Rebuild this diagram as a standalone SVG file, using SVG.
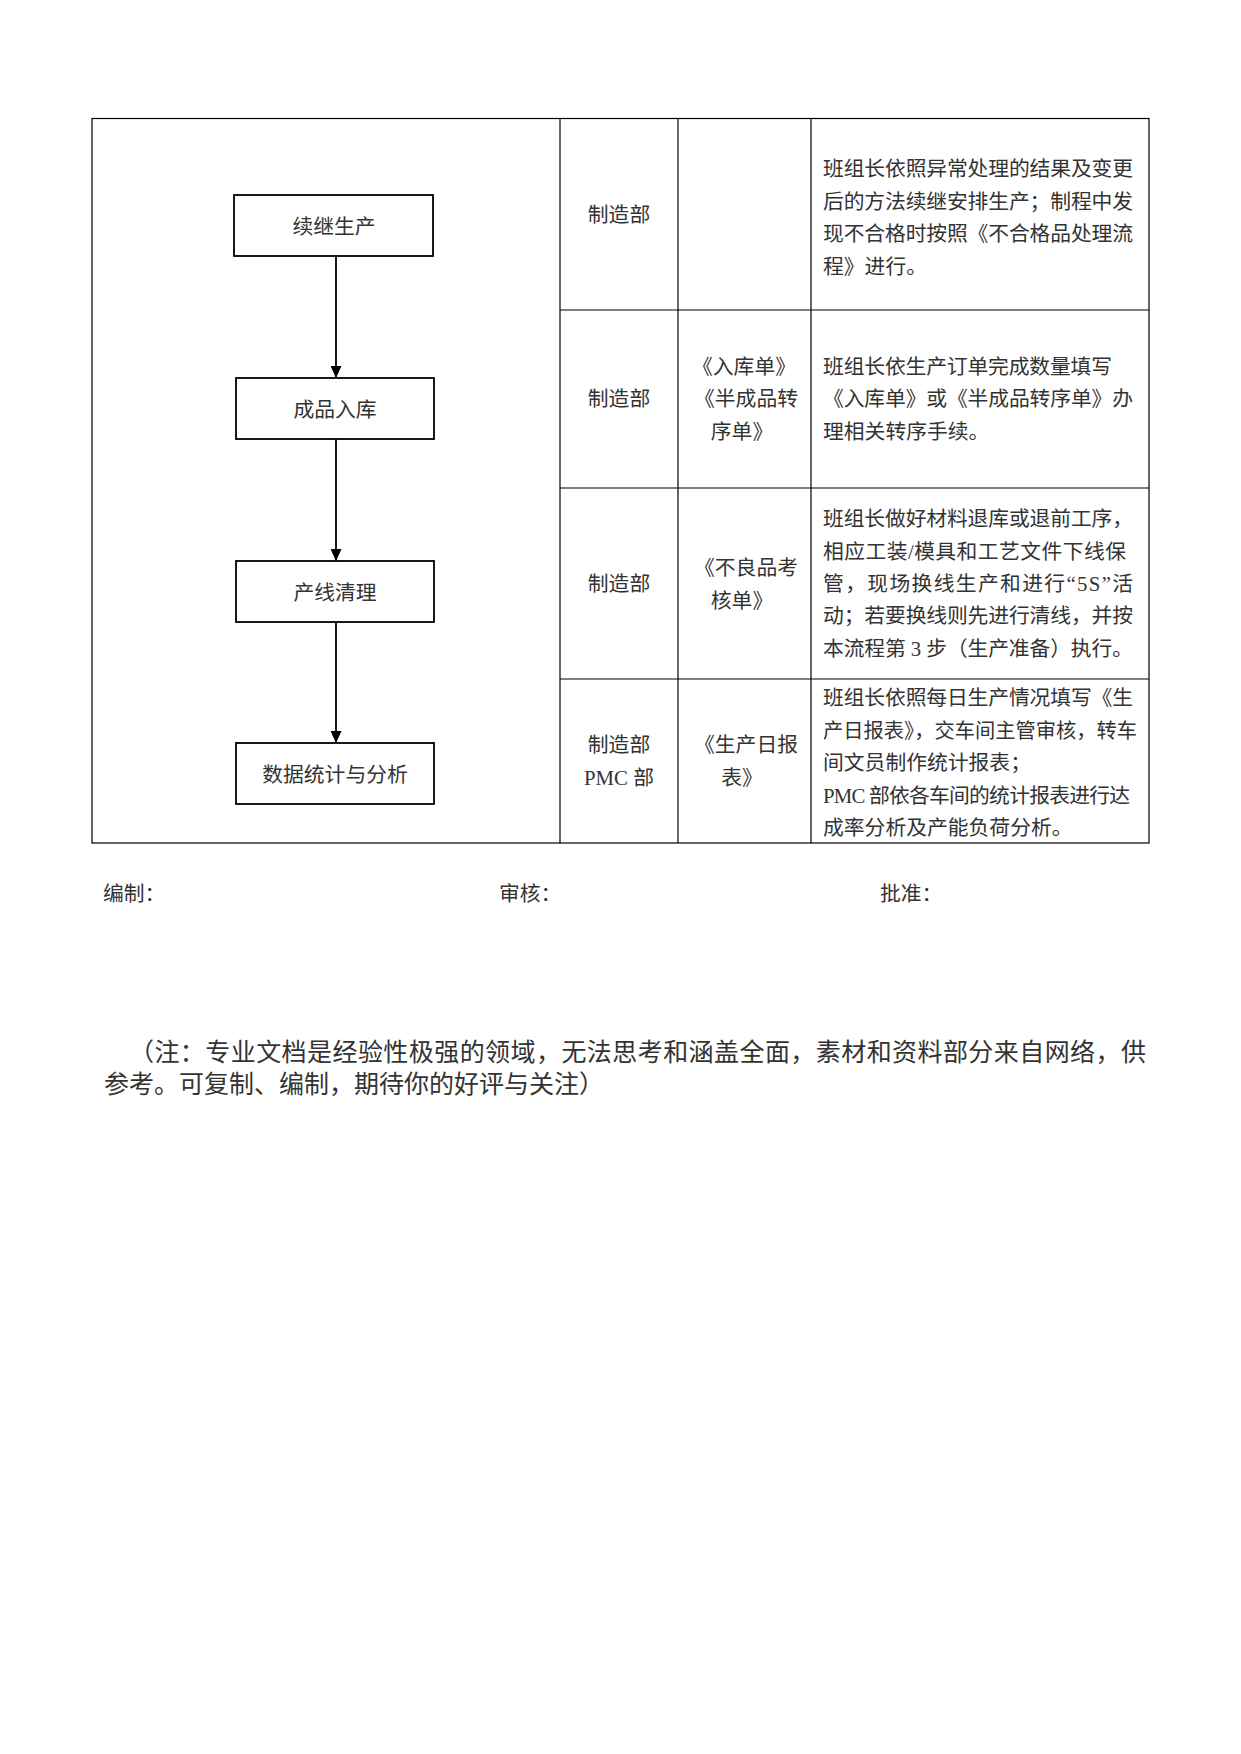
<svg xmlns="http://www.w3.org/2000/svg" width="1241" height="1754" viewBox="0 0 1241 1754">
<style>
.t{font-family:"Liberation Serif","Noto Sans CJK SC",serif;font-size:20.8px;fill:#333;dominant-baseline:central}
.c{text-anchor:middle}
.n{font-family:"Liberation Serif","Noto Sans CJK SC",serif;font-size:20.8px;fill:#333;dominant-baseline:central;text-anchor:middle}
.box{fill:#fff;stroke:#000;stroke-width:1.8}
.grid{stroke:#000;stroke-width:1.2;fill:none}
.conn{stroke:#000;stroke-width:1.8;fill:none}
.note{font-family:"Liberation Serif","Noto Sans CJK SC",serif;font-size:25px;fill:#333;dominant-baseline:central}
</style>
<defs>
<marker id="arr" viewBox="0 0 12 11" refX="12" refY="5.5" markerWidth="12" markerHeight="11" markerUnits="userSpaceOnUse" orient="auto">
<path d="M0,0 L12,5.5 L0,11 Z" fill="#000"/>
</marker>
</defs>
<rect width="1241" height="1754" fill="#fff"/>

<g id="table">
<rect class="grid" x="92" y="118.5" width="1057" height="724.5"/>
<line class="grid" x1="560" y1="118.5" x2="560" y2="843"/>
<line class="grid" x1="678" y1="118.5" x2="678" y2="843"/>
<line class="grid" x1="811" y1="118.5" x2="811" y2="843"/>
<line class="grid" x1="560" y1="310" x2="1149" y2="310"/>
<line class="grid" x1="560" y1="488" x2="1149" y2="488"/>
<line class="grid" x1="560" y1="679" x2="1149" y2="679"/>
</g>

<g id="connectors">
<line class="conn" x1="336" y1="256" x2="336" y2="378" marker-end="url(#arr)"/>
<line class="conn" x1="336" y1="439" x2="336" y2="561" marker-end="url(#arr)"/>
<line class="conn" x1="336" y1="622" x2="336" y2="743" marker-end="url(#arr)"/>
</g>

<g id="node1">
<rect class="box" x="234" y="195" width="199" height="61"/>
<text class="n" x="334" y="226">续继生产</text>
</g>
<g id="node2">
<rect class="box" x="236" y="378" width="198" height="61"/>
<text class="n" x="335" y="409">成品入库</text>
</g>
<g id="node3">
<rect class="box" x="236" y="561" width="198" height="61"/>
<text class="n" x="335" y="592">产线清理</text>
</g>
<g id="node4">
<rect class="box" x="236" y="743" width="198" height="61"/>
<text class="n" x="335" y="774">数据统计与分析</text>
</g>

<g id="row1">
<text class="t c" x="619" y="214">制造部</text>
<text class="t" x="823" y="168.5" textLength="310">班组长依照异常处理的结果及变更</text>
<text class="t" x="823" y="201" textLength="310">后的方法续继安排生产；制程中发</text>
<text class="t" x="823" y="233.5" textLength="310">现不合格时按照《不合格品处理流</text>
<text class="t" x="823" y="266">程》进行。</text>
</g>

<g id="row2">
<text class="t c" x="619" y="398">制造部</text>
<text class="t c" x="744" y="366">《入库单》</text>
<text class="t c" x="746" y="398">《半成品转</text>
<text class="t c" x="742" y="431">序单》</text>
<text class="t" x="823" y="366" textLength="289">班组长依生产订单完成数量填写</text>
<text class="t" x="823" y="398" textLength="310">《入库单》或《半成品转序单》办</text>
<text class="t" x="823" y="431">理相关转序手续。</text>
</g>

<g id="row3">
<text class="t c" x="619" y="583">制造部</text>
<text class="t c" x="746" y="567">《不良品考</text>
<text class="t c" x="742" y="600">核单》</text>
<text class="t" x="823" y="518" textLength="310">班组长做好材料退库或退前工序，</text>
<text class="t" x="823" y="551" textLength="303">相应工装/模具和工艺文件下线保</text>
<text class="t" x="823" y="583" textLength="310">管，现场换线生产和进行“5S”活</text>
<text class="t" x="823" y="615" textLength="310">动；若要换线则先进行清线，并按</text>
<text class="t" x="823" y="648" textLength="310">本流程第 3 步（生产准备）执行。</text>
</g>

<g id="row4">
<text class="t c" x="619" y="744">制造部</text>
<text class="t c" x="619" y="777">PMC 部</text>
<text class="t c" x="746" y="744">《生产日报</text>
<text class="t c" x="742" y="777">表》</text>
<text class="t" x="823" y="697" textLength="310">班组长依照每日生产情况填写《生</text>
<text class="t" x="823" y="730" textLength="314" lengthAdjust="spacingAndGlyphs">产日报表》，交车间主管审核，转车</text>
<text class="t" x="823" y="762">间文员制作统计报表；</text>
<text class="t" x="823" y="795" textLength="307">PMC 部依各车间的统计报表进行达</text>
<text class="t" x="823" y="827">成率分析及产能负荷分析。</text>
</g>

<g id="footer">
<text class="t" x="103" y="893">编制：</text>
<text class="t" x="499" y="893">审核：</text>
<text class="t" x="880" y="893">批准：</text>
</g>

<g id="note">
<text class="note" x="129" y="1052" textLength="1017">（注：专业文档是经验性极强的领域，无法思考和涵盖全面，素材和资料部分来自网络，供</text>
<text class="note" x="104" y="1084">参考。可复制、编制，期待你的好评与关注）</text>
</g>
</svg>
